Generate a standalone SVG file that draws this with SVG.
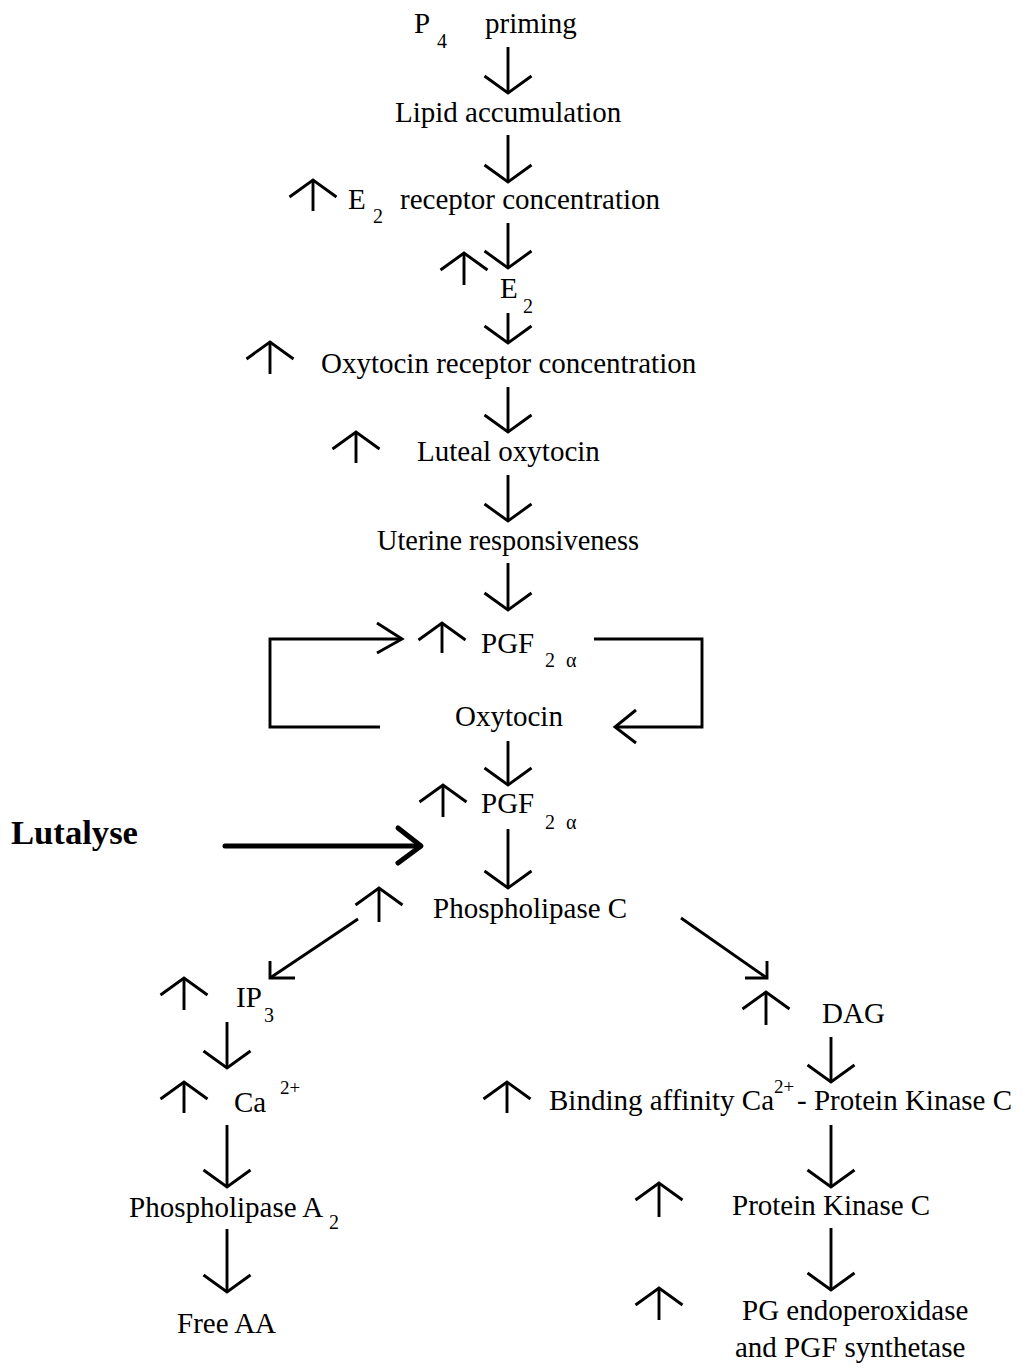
<svg xmlns="http://www.w3.org/2000/svg" width="1023" height="1372" viewBox="0 0 1023 1372">
<style>
  text { font-family: "Liberation Serif", "Times New Roman", serif; font-size: 29px; fill: #000; }
  .sub { font-size: 20px; }
  .sup { font-size: 19px; }
  .bold { font-weight: bold; font-size: 33px; }
  .ln { fill: none; stroke: #000; stroke-width: 2.9; stroke-linecap: butt; }
  .arr { marker-end: url(#ah); }
  .thick { fill: none; stroke: #000; stroke-width: 5; stroke-linecap: round; stroke-linejoin: round; }
</style>
<defs>
  <marker id="ah" markerUnits="userSpaceOnUse" markerWidth="60" markerHeight="60" refX="0" refY="0" orient="auto" overflow="visible">
    <path d="M-17,-23.5 L0,0 L-17,23.5" fill="none" stroke="#000" stroke-width="2.9" stroke-linejoin="miter"/>
  </marker>
</defs>
<rect width="1023" height="1372" fill="#fff"/>

<g id="connectors">
  <path class="ln arr" d="M508,47 V93"/>
  <path class="ln arr" d="M508,135 V182"/>
  <path class="ln arr" d="M508,223 V268"/>
  <path class="ln arr" d="M508,313 V343"/>
  <path class="ln arr" d="M508,387 V432"/>
  <path class="ln arr" d="M508,475 V521"/>
  <path class="ln arr" d="M508,563 V610"/>
  <path class="ln arr" d="M508,741 V785"/>
  <path class="ln arr" d="M508,829 V888"/>
  <path class="ln arr" d="M227,1022 V1068"/>
  <path class="ln arr" d="M227,1125 V1187"/>
  <path class="ln arr" d="M227,1229 V1292"/>
  <path class="ln arr" d="M831,1037 V1082"/>
  <path class="ln arr" d="M831,1125 V1187"/>
  <path class="ln arr" d="M831,1228 V1290"/>
  <!-- feedback loop -->
  <path class="ln" d="M380,727 H270 V639 H402"/>
  <path class="ln" d="M377,623 L402,639 L377,653"/>
  <path class="ln" d="M594,639 H702 V727 H615"/>
  <path class="ln" d="M636,710 L615,727 L636,743"/>
  <!-- Lutalyse -->
  <path class="thick" d="M225,846 H420"/>
  <path class="thick" d="M398,828 L421,846 L398,863"/>
  <!-- diagonals -->
  <path class="ln" d="M358,919 L270,978"/>
  <path class="ln" d="M270,961 L270,978 L295,978"/>
  <path class="ln" d="M681,918 L767,978"/>
  <path class="ln" d="M767,961 L767,978 L745,978"/>
</g>

<g id="n-p4">
  <text x="414" y="33">P</text><text class="sub" x="437" y="48">4</text><text x="485" y="33">priming</text>
</g>
<g id="n-lipid">
  <text x="395" y="122">Lipid accumulation</text>
</g>
<g id="n-e2rc">
  <path class="ln arr" d="M313,211 V180"/>
  <text x="348" y="209">E</text><text class="sub" x="373" y="223">2</text><text x="400" y="209">receptor concentration</text>
</g>
<g id="n-e2">
  <path class="ln arr" d="M464,285 V253"/>
  <text x="500" y="298">E</text><text class="sub" x="523" y="313">2</text>
</g>
<g id="n-otrc">
  <path class="ln arr" d="M270,374 V342"/>
  <text x="321" y="373">Oxytocin receptor concentration</text>
</g>
<g id="n-luteal">
  <path class="ln arr" d="M356,463 V432"/>
  <text x="417" y="461">Luteal oxytocin</text>
</g>
<g id="n-uterine">
  <text x="377" y="550" textLength="262" lengthAdjust="spacingAndGlyphs">Uterine responsiveness</text>
</g>
<g id="n-pgf1">
  <path class="ln arr" d="M442,653 V623"/>
  <text x="481" y="653">PGF</text><text class="sub" x="545" y="667">2</text><text class="sub" x="566" y="667">α</text>
</g>
<g id="n-oxytocin">
  <text x="455" y="726">Oxytocin</text>
</g>
<g id="n-pgf2">
  <path class="ln arr" d="M443,817 V785"/>
  <text x="481" y="813">PGF</text><text class="sub" x="545" y="829">2</text><text class="sub" x="566" y="829">α</text>
</g>
<g id="n-lutalyse">
  <text class="bold" x="11" y="844" textLength="127" lengthAdjust="spacingAndGlyphs">Lutalyse</text>
</g>
<g id="n-plc">
  <path class="ln arr" d="M379,922 V888"/>
  <text x="433" y="918">Phospholipase C</text>
</g>
<g id="n-ip3">
  <path class="ln arr" d="M184,1010 V978"/>
  <text x="236" y="1007">IP</text><text class="sub" x="264" y="1022">3</text>
</g>
<g id="n-dag">
  <path class="ln arr" d="M766,1025 V992"/>
  <text x="822" y="1023">DAG</text>
</g>
<g id="n-ca">
  <path class="ln arr" d="M184,1113 V1082"/>
  <text x="234" y="1112">Ca</text><text class="sup" x="280" y="1094">2+</text>
</g>
<g id="n-binding">
  <path class="ln arr" d="M507,1113 V1082"/>
  <text x="549" y="1110">Binding affinity Ca</text><text class="sup" x="774" y="1093">2+</text><text x="797" y="1110">- Protein Kinase C</text>
</g>
<g id="n-pla2">
  <text x="129" y="1217">Phospholipase A</text><text class="sub" x="329" y="1229">2</text>
</g>
<g id="n-pkc">
  <path class="ln arr" d="M659,1217 V1183"/>
  <text x="732" y="1215">Protein Kinase C</text>
</g>
<g id="n-freeaa">
  <text x="177" y="1333">Free AA</text>
</g>
<g id="n-pge">
  <path class="ln arr" d="M659,1320 V1288"/>
  <text x="742" y="1320">PG endoperoxidase</text>
  <text x="735" y="1357">and PGF synthetase</text>
</g>
</svg>
